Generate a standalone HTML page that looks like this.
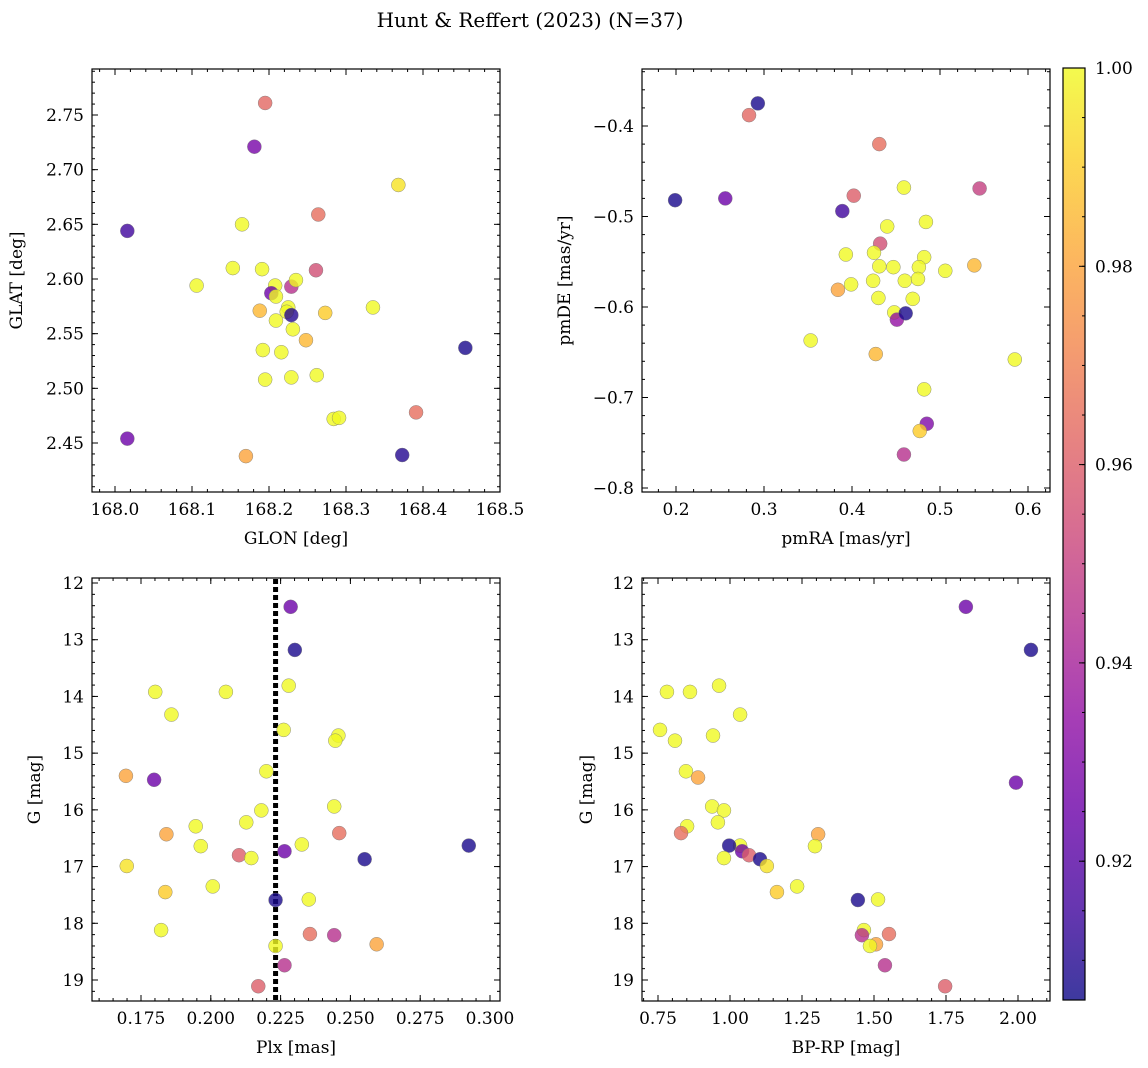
<!DOCTYPE html>
<html><head><meta charset="utf-8">
<style>
html,body{margin:0;padding:0;background:#fff;}
svg{display:block;font-family:"DejaVu Serif","Liberation Serif",serif;}
</style></head>
<body>
<svg id="fig" width="1148" height="1068" viewBox="0 0 1148 1068" xmlns="http://www.w3.org/2000/svg">
<defs>
<linearGradient id="plasmaGrad" x1="0" y1="1" x2="0" y2="0">
<stop offset="0" stop-color="#0d0887"/><stop offset="0.1" stop-color="#41049d"/><stop offset="0.2" stop-color="#6a00a8"/><stop offset="0.3" stop-color="#8f0da4"/><stop offset="0.4" stop-color="#b12a90"/><stop offset="0.5" stop-color="#cc4778"/><stop offset="0.6" stop-color="#e16462"/><stop offset="0.7" stop-color="#f2844b"/><stop offset="0.8" stop-color="#fca636"/><stop offset="0.9" stop-color="#fcce25"/><stop offset="1" stop-color="#f0f921"/>
</linearGradient>
</defs>
<text x="530" y="27" text-anchor="middle" font-size="20">Hunt &amp; Reffert (2023) (N=37)</text>
</svg>
<script>
// Panel 1: GLON vs GLAT
const p1Glon=[168.195,168.181,168.016,168.016,168.455,168.373,168.391,168.368,168.264,168.261,168.170,168.165,168.153,168.106,168.191,168.208,168.229,168.235,168.203,168.209,168.225,168.223,168.229,168.188,168.209,168.273,168.335,168.231,168.248,168.192,168.216,168.195,168.229,168.262,168.284,168.291];
const p1Glat=[2.761,2.721,2.644,2.454,2.537,2.439,2.478,2.686,2.659,2.608,2.438,2.650,2.610,2.594,2.609,2.594,2.593,2.599,2.587,2.584,2.574,2.570,2.567,2.571,2.562,2.569,2.574,2.554,2.544,2.535,2.533,2.508,2.510,2.512,2.472,2.473];
const p1Prob=[0.963,0.928,0.915,0.925,0.908,0.91,0.965,0.995,0.965,0.955,0.98,1,1,1,1,1,0.945,1,0.925,1,1,1,0.91,0.985,1,0.99,1,1,0.985,1,1,1,1,1,1,1];
// Panel 2: pmRA vs pmDE
const p2Pmra=[0.293,0.283,0.431,0.199,0.256,0.545,0.459,0.402,0.389,0.440,0.484,0.432,0.425,0.393,0.482,0.431,0.447,0.476,0.506,0.539,0.424,0.460,0.475,0.384,0.399,0.430,0.469,0.448,0.451,0.461,0.353,0.427,0.585,0.482,0.485,0.477,0.459];
const p2Pmde=[-0.375,-0.388,-0.420,-0.482,-0.480,-0.469,-0.468,-0.477,-0.494,-0.511,-0.506,-0.530,-0.540,-0.542,-0.545,-0.555,-0.556,-0.556,-0.560,-0.554,-0.571,-0.571,-0.569,-0.581,-0.575,-0.590,-0.591,-0.606,-0.614,-0.607,-0.637,-0.652,-0.658,-0.691,-0.729,-0.737,-0.763];
const p2Prob=[0.908,0.963,0.965,0.908,0.925,0.95,1,0.96,0.915,1,1,0.955,1,1,1,1,1,1,1,0.985,1,1,1,0.98,1,1,1,1,0.935,0.908,1,0.985,1,1,0.93,0.99,0.945];
// Panel 3: Plx vs G
const p3Plx=[0.2286,0.2301,0.1801,0.2054,0.2279,0.1859,0.2261,0.2457,0.2446,0.2199,0.1696,0.1797,0.2442,0.2181,0.2127,0.1946,0.1841,0.2460,0.1964,0.2326,0.2924,0.2264,0.2101,0.2145,0.2551,0.1699,0.2007,0.1837,0.2232,0.2351,0.1822,0.2355,0.2442,0.2594,0.2232,0.2264,0.2170];
const p3G=[12.42,13.18,13.92,13.92,13.81,14.32,14.59,14.69,14.78,15.32,15.40,15.47,15.94,16.01,16.22,16.29,16.43,16.41,16.64,16.61,16.63,16.73,16.80,16.85,16.87,16.99,17.35,17.45,17.59,17.58,18.12,18.19,18.21,18.37,18.40,18.74,19.11];
const p3Prob=[0.925,0.908,1,1,1,1,1,1,1,1,0.98,0.925,1,1,1,1,0.98,0.965,1,1,0.908,0.925,0.96,1,0.908,0.995,1,0.99,0.908,1,1,0.965,0.945,0.98,1,0.945,0.96];
const plxMean=0.2232;
// Panel 4: BP-RP vs G
const p4Bprp=[1.819,2.045,0.781,0.861,0.962,1.035,0.757,0.809,0.941,0.847,0.889,1.993,0.938,0.979,0.958,0.851,0.830,1.306,1.035,1.295,0.997,1.042,1.066,0.979,1.104,1.128,1.233,1.163,1.444,1.514,1.465,1.458,1.552,1.507,1.486,1.538,1.747];
const p4G=[12.42,13.18,13.92,13.92,13.81,14.32,14.59,14.78,14.69,15.32,15.43,15.52,15.94,16.01,16.22,16.29,16.41,16.43,16.63,16.64,16.63,16.73,16.80,16.85,16.87,16.99,17.35,17.45,17.59,17.58,18.12,18.21,18.19,18.37,18.40,18.74,19.11];
const p4Prob=[0.925,0.908,1,1,1,1,1,1,1,1,0.98,0.925,1,1,1,1,0.965,0.98,1,1,0.908,0.925,0.96,1,0.908,0.995,1,0.99,0.908,1,1,0.945,0.965,0.98,1,0.945,0.96];
// Colorbar
const cbMin=0.906, cbMax=1.0;
const cbTicks=[0.92,0.94,0.96,0.98,1.00];

const NS="http://www.w3.org/2000/svg";
const svg=document.getElementById('fig');
function mk(tag,attrs,parent){const e=document.createElementNS(NS,tag);for(const k in attrs)e.setAttribute(k,attrs[k]);(parent||svg).appendChild(e);return e;}

const stops=[[0,[13,8,135]],[0.1,[65,4,157]],[0.2,[106,0,168]],[0.3,[143,13,164]],[0.4,[177,42,144]],[0.5,[204,71,120]],[0.6,[225,100,98]],[0.7,[242,132,75]],[0.8,[252,166,54]],[0.9,[252,206,37]],[1,[240,249,33]]];
function plasma(v){let t=(v-cbMin)/(cbMax-cbMin);t=Math.max(0,Math.min(1,t));
 for(let i=0;i<stops.length-1;i++){const a=stops[i],b=stops[i+1];if(t<=b[0]){const f=(t-a[0])/(b[0]-a[0]);const c=a[1].map((x,j)=>Math.round(x+(b[1][j]-x)*f));return `rgb(${c[0]},${c[1]},${c[2]})`;}}
 return 'rgb(240,249,33)';}

function linScale(d0,d1,r0,r1){return v=>r0+(v-d0)/(d1-d0)*(r1-r0);}
function fmt(v,dec){let s=Math.abs(v).toFixed(dec);if(v<-1e-9)s='\u2212'+s;return s;}

function panel(o){
 const kx=(o.xc[3]-o.xc[1])/(o.xc[2]-o.xc[0]);
 const ky=(o.yc[3]-o.yc[1])/(o.yc[2]-o.yc[0]);
 const sx=v=>o.xc[1]+(v-o.xc[0])*kx;
 const sy=v=>o.yc[1]+(v-o.yc[0])*ky;
 const g=mk('g',{});
 
 
 const tg=mk('g',{stroke:'#000','stroke-width':1},g);
 function ticks(lo,hi,step,len,axis,labels,dec){
  const n=Math.round((hi-lo)/step);
  for(let i=0;i<=n;i++){const v=lo+i*step;
   if(axis==='x'){const x=sx(v);if(x<o.L-0.5||x>o.R+0.5)continue;
    mk('line',{x1:x,x2:x,y1:o.B,y2:o.B-len},tg);mk('line',{x1:x,x2:x,y1:o.T,y2:o.T+len},tg);
    if(labels){const t=mk('text',{x:x,y:o.B+23,'text-anchor':'middle','font-size':17,stroke:'none',fill:'#000'},g);t.textContent=fmt(v,dec);
     
     }}
   else{const y=sy(v);if(y<o.T-0.5||y>o.B+0.5)continue;
    mk('line',{x1:o.L,x2:o.L+len,y1:y,y2:y},tg);mk('line',{x1:o.R,x2:o.R-len,y1:y,y2:y},tg);
    if(labels){const t=mk('text',{x:o.L-8,y:y+6,'text-anchor':'end','font-size':17,stroke:'none',fill:'#000'},g);t.textContent=fmt(v,dec);
     
     }}
  }}
 ticks(o.xMinor[0],o.xMinor[1],o.xMinor[2],3,'x',false);
 ticks(o.xMajor[0],o.xMajor[1],o.xMajor[2],6,'x',true,o.xDec);
 ticks(o.yMinor[0],o.yMinor[1],o.yMinor[2],3,'y',false);
 ticks(o.yMajor[0],o.yMajor[1],o.yMajor[2],6,'y',true,o.yDec);
 if(o.extra)o.extra(g,sx,sy);
 const pg=mk('g',{},g);
 
 
 for(let i=0;i<o.xs.length;i++){
  const c=mk('circle',{cx:sx(o.xs[i]),cy:sy(o.ys[i]),r:7,fill:plasma(o.ps[i]),'fill-opacity':0.8,stroke:'#777','stroke-width':0.5,'stroke-opacity':0.8},pg);
  
  
 }
 const fr=mk('rect',{x:o.L,y:o.T,width:o.R-o.L,height:o.B-o.T,fill:'none',stroke:'#000','stroke-width':1.2},g);
 
 
 const xl=mk('text',{x:(o.L+o.R)/2,y:o.B+52,'text-anchor':'middle','font-size':17},g);xl.textContent=o.xlabel;
 
 
 const yl=mk('text',{x:o.ylx,y:(o.T+o.B)/2,'text-anchor':'middle','font-size':17,transform:`rotate(-90 ${o.ylx} ${(o.T+o.B)/2})`},g);yl.textContent=o.ylabel;
 
 
}

panel({name:'glon-glat-panel',L:92,R:500,T:69,B:492,xc:[168.0,115,168.5,500],yc:[2.75,115,2.45,443],
 xs:p1Glon,ys:p1Glat,ps:p1Prob,xMajor:[167.9,168.6,0.1],xMinor:[167.9,168.6,0.02],xDec:1,
 yMajor:[2.40,2.80,0.05],yMinor:[2.40,2.80,0.01],yDec:2,xlabel:'GLON [deg]',ylabel:'GLAT [deg]',ylx:22});
panel({name:'pm-panel',L:642,R:1050,T:69,B:492,xc:[0.2,676,0.6,1028],yc:[-0.4,126,-0.8,488],
 xs:p2Pmra,ys:p2Pmde,ps:p2Prob,xMajor:[0.1,0.7,0.1],xMinor:[0.1,0.7,0.02],xDec:1,
 yMajor:[-0.9,-0.3,0.1],yMinor:[-0.9,-0.3,0.02],yDec:1,xlabel:'pmRA [mas/yr]',ylabel:'pmDE [mas/yr]',ylx:570});
panel({name:'plx-g-panel',L:92,R:500,T:578,B:1001,xc:[0.175,141,0.300,490],yc:[12,583,19,980],
 xs:p3Plx,ys:p3G,ps:p3Prob,xMajor:[0.150,0.325,0.025],xMinor:[0.150,0.325,0.005],xDec:3,
 yMajor:[11,20,1],yMinor:[11,20,0.2],yDec:0,xlabel:'Plx [mas]',ylabel:'G [mag]',ylx:40,
 extra:(g,sx,sy)=>{const l=mk('line',{x1:sx(plxMean),x2:sx(plxMean),y1:579,y2:1000,stroke:'#000','stroke-width':5,'stroke-dasharray':'5 3'},g);
  
  }});
panel({name:'cmd-panel',L:642,R:1050,T:578,B:1001,xc:[0.75,658,2.00,1018],yc:[12,583,19,980],
 xs:p4Bprp,ys:p4G,ps:p4Prob,xMajor:[0.5,2.25,0.25],xMinor:[0.5,2.25,0.05],xDec:2,
 yMajor:[11,20,1],yMinor:[11,20,0.2],yDec:0,xlabel:'BP-RP [mag]',ylabel:'G [mag]',ylx:592});

(function(){
 const L=1063,R=1085,T=68,B=1000;
 const g=mk('g',{});
 
 
 mk('rect',{x:L,y:T,width:R-L,height:B-T,fill:'url(#plasmaGrad)','fill-opacity':0.8},g);
 const sy=linScale(cbMin,cbMax,B,T);
 for(let v=0.905;v<=1.0001;v+=0.005){const y=sy(v);if(y<T||y>B)continue;mk('line',{x1:R,x2:R-3,y1:y,y2:y,stroke:'#000','stroke-width':1},g);}
 cbTicks.forEach(v=>{const y=sy(v);mk('line',{x1:R,x2:R-6,y1:y,y2:y,stroke:'#000','stroke-width':1},g);
  const t=mk('text',{x:R+10,y:y+6,'font-size':17},g);t.textContent=v.toFixed(2);
  
  });
 mk('rect',{x:L,y:T,width:R-L,height:B-T,fill:'none',stroke:'#000','stroke-width':1.2},g);
})();
</script>
</body></html>
